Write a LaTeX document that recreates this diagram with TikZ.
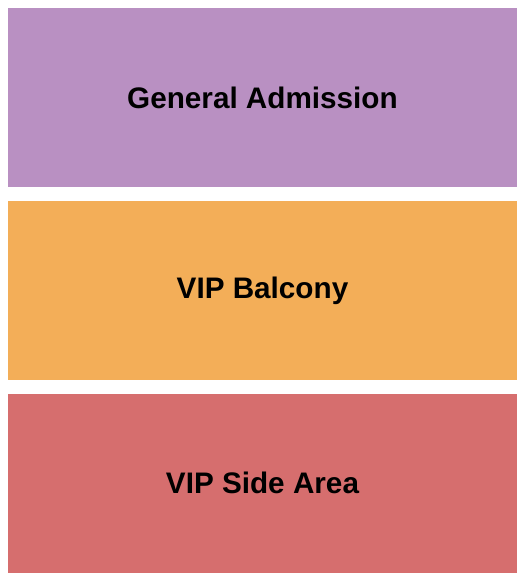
\documentclass[tikz,border=0pt]{standalone}
\usepackage{fontspec}
\setmainfont{Liberation Sans}
\usetikzlibrary{positioning}
\definecolor{gapurple}{HTML}{B990C2}
\definecolor{balcorange}{HTML}{F3AE58}
\definecolor{sidered}{HTML}{D66E6E}

\begin{document}
\begin{tikzpicture}[x=1bp,y=-1bp]
\tikzstyle{zone}=[rectangle, inner sep=0pt, minimum width=509bp, minimum height=179bp, font=\bfseries\fontsize{29.8}{34}\selectfont, text=black]
\useasboundingbox (0,0) rectangle (525,580);
  \node[zone, fill=gapurple] (ga) at (262.5,97.5) {General Admission};
  \node[zone, fill=balcorange] (balcony) [below=14bp of ga] {VIP Balcony};
  \node[zone, fill=sidered] (side) [below=13bp of balcony] {VIP Side Area};
\end{tikzpicture}
\end{document}
